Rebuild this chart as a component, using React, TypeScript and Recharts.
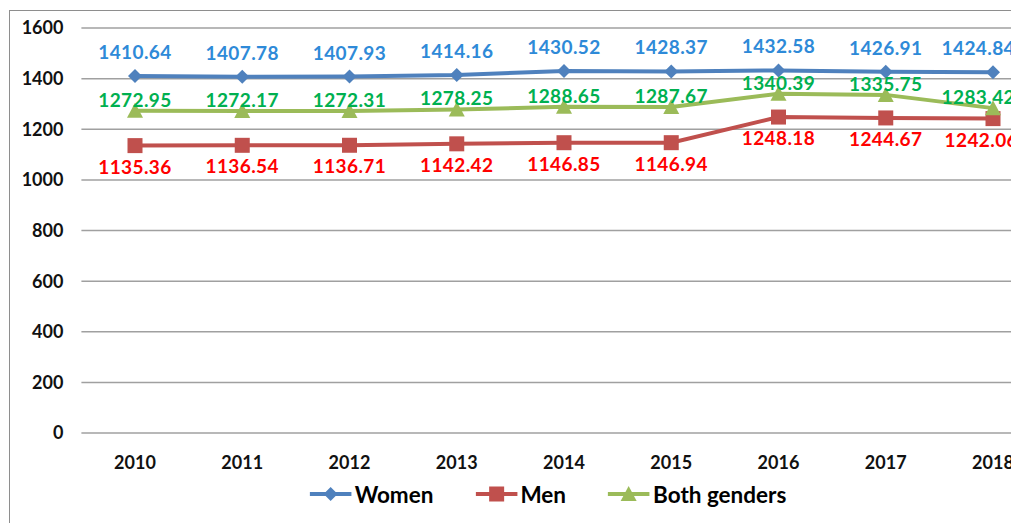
import React from 'react';
import { LineChart, Line, XAxis, YAxis, CartesianGrid, LabelList } from 'recharts';

// values
const years = ['2010', '2011', '2012', '2013', '2014', '2015', '2016', '2017', '2018'];
const women = [1410.64, 1407.78, 1407.93, 1414.16, 1430.52, 1428.37, 1432.58, 1426.91, 1424.84];
const men = [1135.36, 1136.54, 1136.71, 1142.42, 1146.85, 1146.94, 1248.18, 1244.67, 1242.06];
const both = [1272.95, 1272.17, 1272.31, 1278.25, 1288.65, 1287.67, 1340.39, 1335.75, 1283.42];
const yTicks = [0, 200, 400, 600, 800, 1000, 1200, 1400, 1600];

const data = years.map((year, i) => ({ year, women: women[i], men: men[i], both: both[i] }));

const FONT = 'Lato, Carlito, "Open Sans", sans-serif';

const COLORS = {
  women: '#4F81BD',
  men: '#C0504D',
  both: '#9BBB59',
  womenLabel: '#2E8AD8',
  menLabel: '#FF0000',
  bothLabel: '#00B050',
};

const LABEL_SIZE = 19;
const LABEL_SPACING = 0.4;
const TICK = { fill: '#111', fontFamily: FONT, fontSize: 18, fontWeight: 700 };

const Diamond = ({ cx, cy, fill }: any) => (
  <polygon points={`${cx},${cy - 7} ${cx + 7},${cy} ${cx},${cy + 7} ${cx - 7},${cy}`} fill={fill} />
);
const Square = ({ cx, cy, fill }: any) => (
  <rect x={cx - 7.5} y={cy - 7.5} width={15} height={15} fill={fill} />
);
const Triangle = ({ cx, cy, fill }: any) => (
  <polygon points={`${cx},${cy - 8} ${cx + 8},${cy + 7} ${cx - 8},${cy + 7}`} fill={fill} />
);

const series = [
  { key: 'women', name: 'Women', color: COLORS.women, Marker: Diamond },
  { key: 'men', name: 'Men', color: COLORS.men, Marker: Square },
  { key: 'both', name: 'Both genders', color: COLORS.both, Marker: Triangle },
];

// data label that, like Excel, slides inward when it would run past the chart edge
const makeLabel = (fill: string, dy: number, limit: number) => (props: any) => {
  const vb = props.viewBox || {};
  const x = props.x ?? vb.x;
  const y = props.y ?? vb.y;
  if (x == null || y == null || props.value == null) return null;
  const text = Number(props.value).toFixed(2);
  const w = (text.length - 1) * 0.58 * LABEL_SIZE + 0.26 * LABEL_SIZE + text.length * LABEL_SPACING;
  const clamp = x + w / 2 > limit;
  return (
    <text
      x={clamp ? limit : x}
      y={y + dy}
      textAnchor={clamp ? 'end' : 'middle'}
      fill={fill}
      style={{ fontFamily: FONT, fontSize: LABEL_SIZE, fontWeight: 700, letterSpacing: LABEL_SPACING }}
    >
      {text}
    </text>
  );
};

export default function App() {
  return (
    <div style={{ position: 'relative', width: 1011, height: 515, overflow: 'hidden', background: '#fff' }}>
      <div
        style={{
          position: 'absolute',
          left: 1,
          top: 2,
          width: 1100,
          height: 600,
          border: '1.5px solid #8e8e8e',
          boxSizing: 'border-box',
        }}
      />
      <div style={{ position: 'absolute', left: 0, top: 0 }}>
        <LineChart width={1060} height={470} data={data} margin={{ top: 20, right: 21.4, bottom: 5, left: 0 }}>
          <CartesianGrid vertical={false} stroke="#a0a0a0" strokeWidth={1.5} />
          <XAxis
            dataKey="year"
            axisLine={false}
            tickLine={false}
            tickSize={0}
            tickMargin={23}
            height={40}
            padding={{ left: 53.6, right: 53.6 }}
            tick={TICK}
          />
          <YAxis
            domain={[0, 1600]}
            ticks={yTicks}
            axisLine={false}
            tickLine={false}
            tickSize={0}
            tickMargin={18}
            width={73.4}
            tick={TICK}
          />
          <Line
            dataKey="women"
            stroke={COLORS.women}
            strokeWidth={4}
            isAnimationActive={false}
            dot={(p: any) => <Diamond key={`w${p.index}`} cx={p.cx} cy={p.cy} fill={COLORS.women} />}
          >
            <LabelList dataKey="women" content={makeLabel(COLORS.womenLabel, -17, 1007)} />
          </Line>
          <Line
            dataKey="men"
            stroke={COLORS.men}
            strokeWidth={4}
            isAnimationActive={false}
            dot={(p: any) => <Square key={`m${p.index}`} cx={p.cx} cy={p.cy} fill={COLORS.men} />}
          >
            <LabelList dataKey="men" content={makeLabel(COLORS.menLabel, 28, 1010)} />
          </Line>
          <Line
            dataKey="both"
            stroke={COLORS.both}
            strokeWidth={4}
            isAnimationActive={false}
            dot={(p: any) => <Triangle key={`b${p.index}`} cx={p.cx} cy={p.cy} fill={COLORS.both} />}
          >
            <LabelList dataKey="both" content={makeLabel(COLORS.bothLabel, -4, 1007)} />
          </Line>
        </LineChart>
      </div>
      <div
        style={{
          position: 'absolute',
          top: 472,
          left: 540,
          transform: 'translateX(-50%)',
          display: 'flex',
          alignItems: 'center',
          gap: 42,
          whiteSpace: 'nowrap',
          fontFamily: FONT,
          fontSize: 22.5,
          fontWeight: 700,
          color: '#000',
          height: 28,
        }}
      >
        {series.map(({ key, name, color, Marker }) => (
          <div key={key} style={{ display: 'flex', alignItems: 'center', gap: 3 }}>
            <svg width={42} height={20}>
              <line x1={0} y1={10} x2={42} y2={10} stroke={color} strokeWidth={4} />
              <Marker cx={21} cy={10} fill={color} />
            </svg>
            <span>{name}</span>
          </div>
        ))}
      </div>
    </div>
  );
}
